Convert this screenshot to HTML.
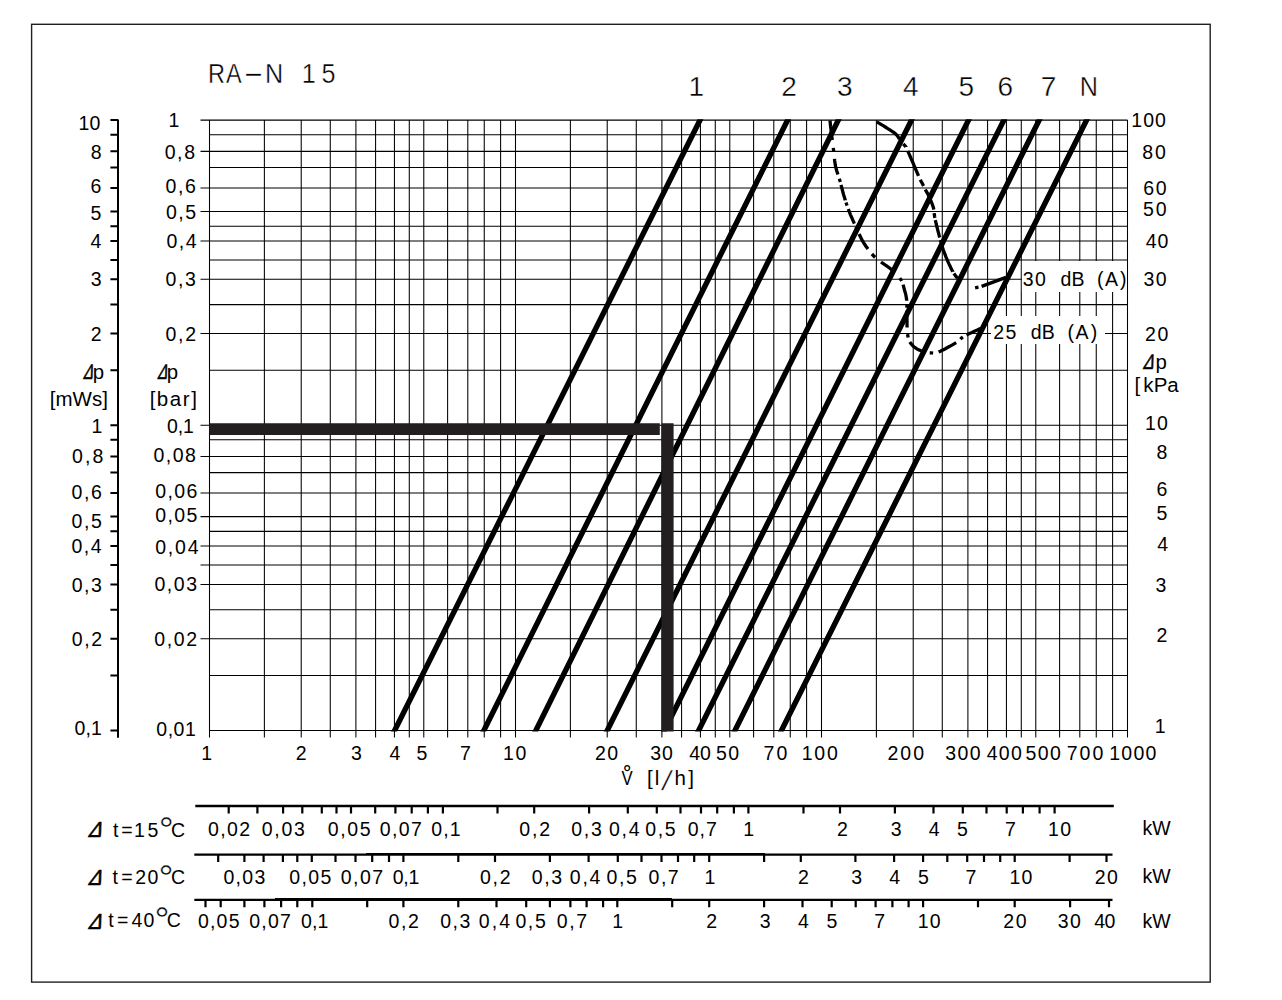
<!DOCTYPE html>
<html><head><meta charset="utf-8"><title>RA-N 15</title><style>
html,body{margin:0;padding:0;background:#fff;overflow:hidden;}
svg{display:block;}
text{font-family:"Liberation Sans",sans-serif;fill:#000;}
</style></head><body>
<svg width="1282" height="1000" viewBox="0 0 1282 1000">
<rect x="0" y="0" width="1282" height="1000" fill="#fff"/>
<rect x="31.6" y="24.3" width="1178.6" height="957.8" fill="none" stroke="#231f20" stroke-width="1.4"/>
<path d="M209.50 120.10V737.6M264.38 120.10V737.6M301.22 120.10V737.6M330.27 120.10V737.6M355.90 120.10V737.6M375.58 120.10V737.6M394.43 120.10V737.6M409.28 120.10V737.6M423.78 120.10V737.6M447.61 120.10V737.6M467.80 120.10V737.6M484.25 120.10V737.6M500.60 120.10V737.6M515.50 120.10V737.6M570.38 120.10V737.6M607.22 120.10V737.6M636.27 120.10V737.6M661.90 120.10V737.6M681.58 120.10V737.6M700.43 120.10V737.6M715.28 120.10V737.6M729.78 120.10V737.6M753.61 120.10V737.6M773.80 120.10V737.6M790.25 120.10V737.6M806.60 120.10V737.6M821.50 120.10V737.6M876.38 120.10V737.6M913.22 120.10V737.6M942.27 120.10V737.6M967.90 120.10V737.6M987.58 120.10V737.6M1006.43 120.10V737.6M1021.28 120.10V737.6M1035.78 120.10V737.6M1059.61 120.10V737.6M1079.80 120.10V737.6M1096.25 120.10V737.6M1112.60 120.10V737.6M1127.50 120.10V737.6M200.50 120.10H1127.50M209.50 134.66H1127.50M200.50 151.37H1127.50M209.50 167.47H1127.50M200.50 187.90H1127.50M200.50 211.46H1127.50M209.50 226.22H1127.50M200.50 240.93H1127.50M209.50 259.93H1127.50M200.50 279.26H1127.50M209.50 304.62H1127.50M200.50 333.59H1127.50M209.50 370.32H1127.50M200.50 425.25H1127.50M209.50 439.81H1127.50M200.50 456.52H1127.50M209.50 472.62H1127.50M200.50 493.05H1127.50M200.50 516.61H1127.50M209.50 531.37H1127.50M200.50 546.08H1127.50M200.50 565.08H1127.50M200.50 584.41H1127.50M209.50 609.77H1127.50M200.50 638.74H1127.50M209.50 675.47H1127.50M209.50 730.40H1127.50" stroke="#000" stroke-width="1.05" fill="none"/>
<path d="M118 119.4V737.8M110.4 120.10H118M110.4 134.66H118M110.4 151.37H118M110.4 167.47H118M110.4 187.90H118M110.4 211.46H118M110.4 226.22H118M110.4 240.93H118M110.4 259.93H118M110.4 279.26H118M110.4 304.62H118M110.4 333.59H118M110.4 370.32H118M110.4 425.25H118M110.4 439.81H118M110.4 456.52H118M110.4 472.62H118M110.4 493.05H118M110.4 516.61H118M110.4 531.37H118M110.4 546.08H118M110.4 565.08H118M110.4 584.41H118M110.4 609.77H118M110.4 638.74H118M110.4 675.47H118M110.4 730.40H118" stroke="#000" stroke-width="2" fill="none"/>
<rect x="1021.9" y="261" width="105.1" height="31" fill="#fff"/>
<rect x="991" y="316" width="114" height="28" fill="#fff"/>
<clipPath id="cc"><rect x="300" y="119.2" width="900" height="612.4"/></clipPath>
<path clip-path="url(#cc)" d="M392.70 734.4L702.00 116.1M481.91 734.4L789.59 116.1M533.92 734.4L840.28 116.1M605.31 734.4L913.49 116.1M662.51 734.4L970.49 116.1M696.70 734.4L1005.90 116.1M733.01 734.4L1041.19 116.1M779.50 734.4L1088.60 116.1" stroke="#000" stroke-width="5.4" fill="none"/>
<path d="M830.0 120.5L830.2 122.5L830.4 124.5L830.6 126.5L830.9 128.5L831.1 130.4L831.3 132.4L831.6 134.4L831.8 136.4L832.1 138.4L832.3 140.0M833.3 147.8L833.5 149.8L833.7 151.2M834.5 158.9L834.7 160.9L835.0 162.9L835.3 164.9L835.7 166.9L836.2 168.8L836.7 170.7L837.3 172.6L837.9 174.4M839.3 178.7L839.9 180.6L840.3 181.9M841.0 184.8L841.5 186.7L842.0 188.6L842.5 190.6L843.0 192.5L843.5 194.4L844.1 196.3L844.7 198.3L845.3 200.2L845.3 200.3M846.0 202.4L846.6 204.3L847.1 205.6M848.3 209.0L849.0 210.8L849.7 212.7L850.4 214.6L851.2 216.4L852.0 218.2L852.8 220.1L853.6 221.9L854.4 223.6M856.0 226.9L856.8 228.7L857.4 230.0M859.1 234.0L859.9 235.8L860.8 237.6L861.7 239.4L862.7 241.2L863.7 242.9L864.8 244.5L865.9 246.2L867.1 247.8L868.0 249.0M871.9 254.0L873.3 255.5L874.7 256.9L875.2 257.3M881.0 262.0L882.6 263.2L884.3 264.3L885.9 265.5L887.6 266.6L889.2 267.7L890.8 269.0L892.0 270.0M899.8 278.1L901.0 279.8L901.6 281.0M903.1 284.7L903.6 286.6L904.1 288.5L904.6 290.5L905.2 292.4L905.7 294.3L906.1 296.3L906.4 298.3L906.7 300.2L906.7 300.7M906.9 304.3L906.9 306.3L906.9 307.7M906.9 310.7L906.9 312.7L906.8 314.7L906.9 316.7L906.9 318.7L907.0 320.7L907.0 322.7L907.0 324.7L907.1 326.7L907.1 327.4M907.5 334.1L907.9 336.1L908.1 337.5M909.8 342.0L910.9 343.6L912.2 345.2L913.6 346.5L915.2 347.7L916.9 348.8L918.6 349.8L920.4 350.6L921.5 351.1M929.7 352.8L931.7 352.9L933.1 353.1M938.6 352.0L940.4 351.2L942.2 350.3L944.0 349.4L945.8 348.5L947.5 347.5L949.3 346.6L951.0 345.6L952.8 344.6L954.5 343.6L956.2 342.6M960.4 339.2L961.8 337.8L962.9 337.0M966.5 334.9L968.3 334.0L970.1 333.2L971.9 332.4L973.8 331.5L975.6 330.7L977.4 329.9L979.2 329.1L980.8 328.4M876.8 121.8L878.5 122.8L880.2 123.8L881.9 124.9L883.6 125.9L885.3 127.0L887.0 128.1L888.6 129.1L890.3 130.2L892.0 131.3L893.7 132.4L895.2 133.6L896.7 135.0L897.9 136.6L899.0 138.3L899.5 139.0M903.3 143.8L904.6 145.3L905.9 146.8L905.9 146.9M907.8 151.0L908.6 152.8L909.4 154.7L910.2 156.5L911.0 158.3L911.8 160.2L912.6 162.0L913.4 163.8L914.1 165.7L914.9 167.5L915.7 169.4L916.5 171.2L917.3 173.1L918.1 174.9L918.5 175.9M920.3 179.7L921.2 181.5L922.2 183.3L923.1 185.1L923.5 185.9M925.3 189.4L926.2 191.2L927.2 192.9L928.2 194.7L929.0 196.5L929.9 198.3L930.6 200.1L931.4 202.0L932.1 203.9L932.8 205.7L933.4 207.7L933.8 209.6M934.2 213.1L934.4 215.1L934.7 217.1L934.9 217.9M935.3 220.1L935.8 222.1L936.2 224.0L936.7 226.0L937.2 227.9L937.7 229.9L938.2 231.8L938.7 233.7L939.2 235.7L939.7 237.5M940.4 240.0L941.0 241.9L941.5 243.9L942.0 245.8L942.6 247.7L943.2 249.6L943.9 251.5L944.6 253.4L945.3 255.2L946.0 257.1L946.8 258.9L947.6 260.8L948.4 262.6L949.2 264.4L950.1 266.2L950.9 268.0L951.8 269.8L952.8 271.6L952.8 271.7M953.9 273.5L955.0 275.1L956.2 276.7L957.5 278.2L957.5 278.3M975.1 287.8L978.5 287.1M981.6 286.4L1006 277.4" stroke="#000" stroke-width="3.3" fill="none"/>
<path d="M209.5 423.3H659.8V435H209.5ZM661.5 423.3H673.6V731.6H661.5Z" fill="#231f20"/>
<path d="M195.3 806.0H1113.8M194.3 854.7H1112.5M194.3 899.8H1112.5" stroke="#000" stroke-width="2.3" fill="none"/>
<path d="M228.70 806.0V813.4M257.40 806.0V813.4M283.10 806.0V813.4M302.30 806.0V813.4M321.80 806.0V813.4M336.50 806.0V813.4M351.00 806.0V813.4M375.20 806.0V813.4M395.40 806.0V813.4M411.70 806.0V813.4M427.90 806.0V813.4M442.90 806.0V813.4M497.50 806.0V813.4M534.20 806.0V813.4M589.10 806.0V813.4M627.80 806.0V813.4M656.80 806.0V813.4M680.50 806.0V813.4M701.00 806.0V813.4M717.20 806.0V813.4M733.90 806.0V813.4M748.40 806.0V813.4M803.50 806.0V813.4M840.00 806.0V813.4M894.90 806.0V813.4M933.50 806.0V813.4M962.80 806.0V813.4M986.50 806.0V813.4M1006.70 806.0V813.4M1022.90 806.0V813.4M1039.60 806.0V813.4M1054.60 806.0V813.4M218.20 854.7V862.1M244.40 854.7V862.1M263.60 854.7V862.1M282.90 854.7V862.1M297.30 854.7V862.1M311.80 854.7V862.1M335.50 854.7V862.1M355.50 854.7V862.1M372.20 854.7V862.1M389.00 854.7V862.1M403.40 854.7V862.1M458.30 854.7V862.1M495.00 854.7V862.1M549.90 854.7V862.1M588.60 854.7V862.1M617.80 854.7V862.1M641.50 854.7V862.1M661.50 854.7V862.1M678.00 854.7V862.1M694.20 854.7V862.1M709.20 854.7V862.1M764.10 854.7V862.1M800.80 854.7V862.1M855.40 854.7V862.1M894.10 854.7V862.1M923.10 854.7V862.1M947.30 854.7V862.1M967.20 854.7V862.1M984.00 854.7V862.1M1000.20 854.7V862.1M1014.70 854.7V862.1M1069.60 854.7V862.1M1106.50 854.7V862.1M205.50 899.8V907.2M220.70 899.8V907.2M244.40 899.8V907.2M264.40 899.8V907.2M281.10 899.8V907.2M297.30 899.8V907.2M312.30 899.8V907.2M367.20 899.8V907.2M403.40 899.8V907.2M458.30 899.8V907.2M496.50 899.8V907.2M526.20 899.8V907.2M549.90 899.8V907.2M570.40 899.8V907.2M586.60 899.8V907.2M603.10 899.8V907.2M617.30 899.8V907.2M672.20 899.8V907.2M709.20 899.8V907.2M764.10 899.8V907.2M802.50 899.8V907.2M831.70 899.8V907.2M855.70 899.8V907.2M875.60 899.8V907.2M892.40 899.8V907.2M908.60 899.8V907.2M923.10 899.8V907.2M978.00 899.8V907.2M1014.70 899.8V907.2M1070.10 899.8V907.2M1109.00 899.8V907.2" stroke="#000" stroke-width="2.2" fill="none"/>
<path d="M366 853H765V854.2H366ZM275 898H672V899.2H275Z" fill="#000"/>
<g font-size="19.5">
<text transform="scale(0.84,1)" x="247.49 268.94" y="83.40" font-size="28" stroke="#fff" stroke-width="0.4">RA</text>
<text transform="scale(2.3,1)" x="105.56" y="82.40" font-size="28" stroke="#fff" stroke-width="0.4">-</text>
<text transform="scale(0.9,1)" x="294.33 314.55 335.28 357.13" y="83.40" font-size="28" stroke="#fff" stroke-width="0.4">N 15</text>
<text x="688.48" y="95.70" font-size="28" stroke="#fff" stroke-width="0.4">1</text>
<text x="781.21" y="95.70" font-size="28" stroke="#fff" stroke-width="0.4">2</text>
<text x="837.05" y="95.70" font-size="28" stroke="#fff" stroke-width="0.4">3</text>
<text x="903.05" y="95.70" font-size="28" stroke="#fff" stroke-width="0.4">4</text>
<text x="958.59" y="95.70" font-size="28" stroke="#fff" stroke-width="0.4">5</text>
<text x="997.52" y="95.70" font-size="28" stroke="#fff" stroke-width="0.4">6</text>
<text x="1040.70" y="95.70" font-size="28" stroke="#fff" stroke-width="0.4">7</text>
<text transform="scale(0.9,1)" x="1199.83" y="95.70" font-size="28" stroke="#fff" stroke-width="0.4">N</text>
<text x="78.41" y="129.80" letter-spacing="0.36">10</text>
<text x="90.68" y="159.00" letter-spacing="1.60">8</text>
<text x="90.61" y="193.20" letter-spacing="1.60">6</text>
<text x="90.50" y="220.40" letter-spacing="1.60">5</text>
<text x="90.49" y="247.50" letter-spacing="1.60">4</text>
<text x="90.73" y="285.50" letter-spacing="1.60">3</text>
<text x="90.68" y="340.50" letter-spacing="1.60">2</text>
<text x="91.51" y="432.50" letter-spacing="1.60">1</text>
<text x="71.94" y="463.10" letter-spacing="2.10">0,8</text>
<text x="71.44" y="499.00" letter-spacing="1.66">0,6</text>
<text x="71.44" y="527.70" letter-spacing="1.64">0,5</text>
<text x="71.44" y="553.40" letter-spacing="1.51">0,4</text>
<text x="71.74" y="591.50" letter-spacing="1.51">0,3</text>
<text x="71.74" y="646.00" letter-spacing="1.57">0,2</text>
<text x="74.54" y="734.60" letter-spacing="0.10">0,1</text>
<text x="168.51" y="126.60" letter-spacing="1.60">1</text>
<text x="164.64" y="159.00" letter-spacing="1.65">0,8</text>
<text x="165.54" y="193.20" letter-spacing="1.66">0,6</text>
<text x="165.94" y="218.50" letter-spacing="1.49">0,5</text>
<text x="166.44" y="247.50" letter-spacing="1.51">0,4</text>
<text x="165.54" y="285.50" letter-spacing="1.66">0,3</text>
<text x="165.54" y="340.50" letter-spacing="1.72">0,2</text>
<text x="166.94" y="432.50" letter-spacing="-0.05">0,1</text>
<text x="153.44" y="462.20" letter-spacing="1.52">0,08</text>
<text x="155.24" y="498.20" letter-spacing="1.39">0,06</text>
<text x="155.24" y="521.80" letter-spacing="1.38">0,05</text>
<text x="155.24" y="553.80" letter-spacing="1.79">0,04</text>
<text x="154.44" y="590.90" letter-spacing="1.56">0,03</text>
<text x="154.24" y="645.50" letter-spacing="1.60">0,02</text>
<text x="156.34" y="736.40" letter-spacing="0.49">0,01</text>
<text x="1131.31" y="126.50" letter-spacing="1.01">100</text>
<text x="1142.15" y="158.70" letter-spacing="2.02">80</text>
<text x="1143.31" y="195.10" letter-spacing="1.66">60</text>
<text x="1143.12" y="215.80" letter-spacing="1.85">50</text>
<text x="1145.65" y="248.20" letter-spacing="1.12">40</text>
<text x="1143.56" y="286.00" letter-spacing="1.41">30</text>
<text x="1145.12" y="340.80" letter-spacing="1.65">20</text>
<text x="1145.01" y="429.50" letter-spacing="1.06">10</text>
<text x="1156.43" y="458.60" letter-spacing="1.60">8</text>
<text x="1156.51" y="495.50" letter-spacing="1.60">6</text>
<text x="1156.60" y="519.50" letter-spacing="1.60">5</text>
<text x="1157.14" y="551.00" letter-spacing="1.60">4</text>
<text x="1155.38" y="591.50" letter-spacing="1.60">3</text>
<text x="1156.58" y="641.60" letter-spacing="1.60">2</text>
<text x="1154.81" y="732.50" letter-spacing="1.60">1</text>
<text transform="translate(82.77,378.60) scale(0.679,1) skewX(-23.85)" font-size="21.1" stroke="#000" stroke-width="0.6">Δ</text>
<text x="92.75" y="378.50" font-size="20.4">p</text>
<text x="49.74" y="406.40" font-size="20.5" letter-spacing="0.01">[mWs]</text>
<text transform="translate(156.97,378.60) scale(0.679,1) skewX(-23.85)" font-size="21.1" stroke="#000" stroke-width="0.6">Δ</text>
<text x="166.75" y="378.50" font-size="20.4">p</text>
<text x="149.64" y="406.40" font-size="20.5" letter-spacing="1.55">[bar]</text>
<text transform="translate(1142.53,369.00) scale(0.741,1) skewX(-23.85)" font-size="21.1" stroke="#000" stroke-width="0.6">Δ</text>
<text x="1155.60" y="369.00" font-size="20.4">p</text>
<text x="1134.50 1143.17 1153.86 1167.36" y="391.70" font-size="20.5">[kPa</text>
<text x="201.16" y="760.00" letter-spacing="1.60">1</text>
<text x="295.68" y="760.00" letter-spacing="1.60">2</text>
<text x="350.98" y="760.00" letter-spacing="1.60">3</text>
<text x="389.44" y="760.00" letter-spacing="1.60">4</text>
<text x="416.55" y="760.00" letter-spacing="1.60">5</text>
<text x="460.02" y="760.00" letter-spacing="1.60">7</text>
<text x="503.01" y="760.00" letter-spacing="1.56">10</text>
<text x="595.12" y="760.00" letter-spacing="1.25">20</text>
<text x="650.26" y="760.00" letter-spacing="1.01">30</text>
<text x="689.25" y="760.00" letter-spacing="0.02">40</text>
<text x="715.92" y="760.00" letter-spacing="1.55">50</text>
<text x="763.60" y="760.00" letter-spacing="2.07">70</text>
<text x="801.81" y="760.00" letter-spacing="1.71">100</text>
<text x="887.52" y="760.00" letter-spacing="2.00">200</text>
<text x="945.16" y="760.00" letter-spacing="1.48">300</text>
<text x="986.65" y="760.00" letter-spacing="1.34">400</text>
<text x="1025.42" y="760.00" letter-spacing="1.50">500</text>
<text x="1066.80" y="760.00" letter-spacing="1.96">700</text>
<text x="1109.21" y="760.00" letter-spacing="1.26">1000</text>
<text transform="scale(0.84,1)" x="739.82" y="785.50" font-size="20">V</text>
<text x="623.62" y="785.60" font-size="25.4">˚</text>
<text x="646.95 654.67" y="785.40" font-size="20.5">[l</text>
<text transform="translate(661,789.5) skewX(-12.4)" font-size="27.5" stroke="#fff" stroke-width="0.4">/</text>
<text x="674.50 688.35" y="785.40" font-size="20.5">h]</text>
<text x="1022.78 1035.03 1045.87 1060.40 1071.41 1084.42 1097.01 1105.10 1120.00" y="286.40">30 dB (A)</text>
<text x="993.13 1005.45 1016.29 1030.80 1041.81 1054.82 1067.41 1075.50 1090.75" y="339.00">25 dB (A)</text>
<text x="207.94" y="836.10" letter-spacing="1.43">0,02</text>
<text x="261.64" y="836.10" letter-spacing="1.79">0,03</text>
<text x="327.74" y="836.10" letter-spacing="1.61">0,05</text>
<text x="379.74" y="836.10" letter-spacing="1.40">0,07</text>
<text x="431.34" y="836.10" letter-spacing="1.05">0,1</text>
<text x="519.24" y="836.10" letter-spacing="1.92">0,2</text>
<text x="571.14" y="836.10" letter-spacing="1.86">0,3</text>
<text x="609.04" y="836.10" letter-spacing="1.71">0,4</text>
<text x="645.24" y="836.10" letter-spacing="1.59">0,5</text>
<text x="687.74" y="836.10" letter-spacing="1.02">0,7</text>
<text x="743.31" y="836.10" letter-spacing="1.60">1</text>
<text x="836.98" y="836.10" letter-spacing="1.60">2</text>
<text x="890.73" y="836.10" letter-spacing="1.60">3</text>
<text x="928.79" y="836.10" letter-spacing="1.60">4</text>
<text x="957.10" y="836.10" letter-spacing="1.60">5</text>
<text x="1005.12" y="836.10" letter-spacing="1.60">7</text>
<text x="1048.11" y="836.10" letter-spacing="1.26">10</text>
<text x="1142.60 1152.29" y="834.80">kW</text>
<text x="223.44" y="884.00" letter-spacing="1.29">0,03</text>
<text x="289.14" y="884.00" letter-spacing="1.41">0,05</text>
<text x="340.74" y="884.00" letter-spacing="1.50">0,07</text>
<text x="392.64" y="884.00" letter-spacing="-0.20">0,1</text>
<text x="480.04" y="884.00" letter-spacing="1.67">0,2</text>
<text x="531.74" y="884.00" letter-spacing="1.61">0,3</text>
<text x="569.84" y="884.00" letter-spacing="1.71">0,4</text>
<text x="606.54" y="884.00" letter-spacing="1.59">0,5</text>
<text x="648.54" y="884.00" letter-spacing="1.52">0,7</text>
<text x="704.61" y="884.00" letter-spacing="1.60">1</text>
<text x="797.88" y="884.00" letter-spacing="1.60">2</text>
<text x="851.18" y="884.00" letter-spacing="1.60">3</text>
<text x="889.29" y="884.00" letter-spacing="1.60">4</text>
<text x="917.95" y="884.00" letter-spacing="1.60">5</text>
<text x="965.57" y="884.00" letter-spacing="1.60">7</text>
<text x="1009.41" y="884.00" letter-spacing="1.36">10</text>
<text x="1094.82" y="884.00" letter-spacing="1.25">20</text>
<text x="1142.60 1152.29" y="883.30">kW</text>
<text x="197.94" y="928.10" letter-spacing="1.21">0,05</text>
<text x="249.14" y="928.10" letter-spacing="1.26">0,07</text>
<text x="301.04" y="928.10" letter-spacing="0.05">0,1</text>
<text x="388.44" y="928.10" letter-spacing="1.67">0,2</text>
<text x="440.14" y="928.10" letter-spacing="1.61">0,3</text>
<text x="478.84" y="928.10" letter-spacing="2.06">0,4</text>
<text x="515.44" y="928.10" letter-spacing="1.59">0,5</text>
<text x="556.64" y="928.10" letter-spacing="1.67">0,7</text>
<text x="612.26" y="928.10" letter-spacing="1.60">1</text>
<text x="706.28" y="928.10" letter-spacing="1.60">2</text>
<text x="759.73" y="928.10" letter-spacing="1.60">3</text>
<text x="797.94" y="928.10" letter-spacing="1.60">4</text>
<text x="826.45" y="928.10" letter-spacing="1.60">5</text>
<text x="874.22" y="928.10" letter-spacing="1.60">7</text>
<text x="917.81" y="928.10" letter-spacing="1.06">10</text>
<text x="1003.22" y="928.10" letter-spacing="1.75">20</text>
<text x="1057.66" y="928.10" letter-spacing="1.51">30</text>
<text x="1094.15" y="928.10" letter-spacing="-0.58">40</text>
<text x="1142.60 1152.29" y="927.60">kW</text>
<text transform="translate(87.51,836.70) scale(0.905,1) skewX(-23.85)" font-size="21.8" stroke="#000" stroke-width="0.6">Δ</text>
<text x="113.06 121.36 133.96 147.40" y="836.70">t=15</text>
<text x="158.81" y="842.80" font-size="37.5" stroke="#fff" stroke-width="0.4">°</text>
<text x="171.04" y="836.70">C</text>
<text transform="translate(87.51,885.00) scale(0.905,1) skewX(-23.85)" font-size="21.8" stroke="#000" stroke-width="0.6">Δ</text>
<text x="112.46 121.21 135.13 147.38" y="884.00">t=20</text>
<text x="158.51" y="890.80" font-size="37.5" stroke="#fff" stroke-width="0.4">°</text>
<text x="170.94" y="884.00">C</text>
<text transform="translate(87.51,928.50) scale(0.905,1) skewX(-23.85)" font-size="21.8" stroke="#000" stroke-width="0.6">Δ</text>
<text x="108.31 117.06 131.54 143.53" y="926.80">t=40</text>
<text x="154.46" y="933.40" font-size="37.5" stroke="#fff" stroke-width="0.4">°</text>
<text x="166.64" y="926.80">C</text>
</g>
</svg>
</body></html>
